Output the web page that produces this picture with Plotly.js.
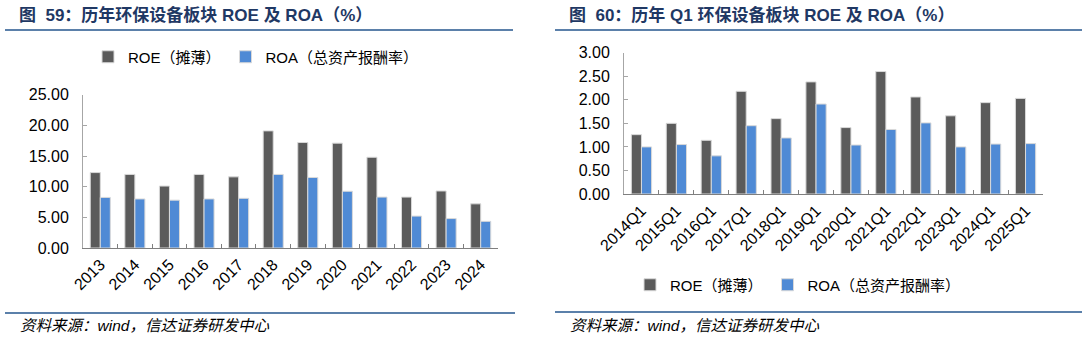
<!DOCTYPE html>
<html>
<head>
<meta charset="utf-8">
<script src="https://cdn.plot.ly/plotly-3.0.1.min.js"></script>
<style>html,body{margin:0;padding:0;background:#fff;}#chart{width:1082px;height:338px;}</style>
</head>
<body>
<div id="chart"></div>
<script>
// Chart 59: annual
const years = ["2013","2014","2015","2016","2017","2018","2019","2020","2021","2022","2023","2024"];
const roeAnnual = [12.3, 12.0, 10.1, 12.0, 11.6, 19.1, 17.2, 17.1, 14.8, 8.3, 9.3, 7.2];
const roaAnnual = [8.25, 8.0, 7.8, 8.0, 8.1, 12.0, 11.5, 9.25, 8.3, 5.2, 4.8, 4.35];
const yTicksAnnual = [0, 5, 10, 15, 20, 25];

// Chart 60: Q1
const quarters = ["2014Q1","2015Q1","2016Q1","2017Q1","2018Q1","2019Q1","2020Q1","2021Q1","2022Q1","2023Q1","2024Q1","2025Q1"];
const roeQ1 = [1.26, 1.50, 1.14, 2.18, 1.60, 2.38, 1.41, 2.60, 2.06, 1.66, 1.94, 2.03];
const roaQ1 = [1.00, 1.05, 0.81, 1.45, 1.19, 1.91, 1.04, 1.37, 1.51, 1.00, 1.06, 1.07];
const yTicksQ1 = [0, 0.5, 1, 1.5, 2, 2.5, 3];

const nameROE = "ROE（摊薄）";
const nameROA = "ROA（总资产报酬率）";
const colROE = "#5b5b5b";
const colROA = "#4f8ad5";

const W = 1082, H = 338;
const px = v => v / W;
const py = v => 1 - v / H;

const baseFont = "Liberation Sans, Arial, Noto Sans CJK SC, sans-serif";
const tickFont = {family: baseFont, size: 16, color: "#000"};
const lineStyle = {color: "#d9d9d9", width: 1};

const traces = [
  {type: "bar", x: years, y: roeAnnual, name: nameROE, xaxis: "x", yaxis: "y", legend: "legend",
   marker: {color: colROE, line: lineStyle}},
  {type: "bar", x: years, y: roaAnnual, name: nameROA, xaxis: "x", yaxis: "y", legend: "legend",
   marker: {color: colROA, line: lineStyle}},
  {type: "bar", x: quarters, y: roeQ1, name: nameROE, xaxis: "x2", yaxis: "y2", legend: "legend2",
   marker: {color: colROE, line: lineStyle}},
  {type: "bar", x: quarters, y: roaQ1, name: nameROA, xaxis: "x2", yaxis: "y2", legend: "legend2",
   marker: {color: colROA, line: lineStyle}}
];

const xCommon = {
  type: "category", dtick: 1,
  showgrid: false, zeroline: false, showline: true, linecolor: "#7f7f7f", linewidth: 1,
  ticks: "inside", ticklen: 4, tickcolor: "#7f7f7f", tickson: "boundaries", tickangle: -45,
  tickfont: tickFont, fixedrange: true
};
const yCommon = {
  showgrid: false, zeroline: false, showline: true, linecolor: "#a6a6a6", linewidth: 1,
  ticks: "inside", ticklen: 4, tickcolor: "#a6a6a6", tickformat: ".2f", tickmode: "array",
  tickfont: tickFont, fixedrange: true, ticklabelstandoff: 10
};

const legendCommon = {
  orientation: "h", xanchor: "left", yanchor: "middle", bgcolor: "rgba(0,0,0,0)",
  font: {family: baseFont, size: 15, color: "#000"}, itemwidth: 30, tracegroupgap: 0,
  traceorder: "normal", itemclick: false, itemdoubleclick: false
};

const navy = "#1f3864";
const rule = "#5b80aa";

const layout = {
  width: W, height: H,
  margin: {l: 0, r: 0, t: 0, b: 0},
  paper_bgcolor: "#fff", plot_bgcolor: "#fff",
  barmode: "group", bargap: 0.42, bargroupgap: 0,
  showlegend: true,
  xaxis: Object.assign({}, xCommon, {domain: [px(83), px(498)], anchor: "y"}),
  yaxis: Object.assign({}, yCommon, {domain: [py(248), py(94.7)], range: [0, 25], tickvals: yTicksAnnual, anchor: "x"}),
  xaxis2: Object.assign({}, xCommon, {domain: [px(624), px(1043)], anchor: "y2"}),
  yaxis2: Object.assign({}, yCommon, {domain: [py(194), py(52.7)], range: [0, 3], tickvals: yTicksQ1, anchor: "x2"}),
  legend: Object.assign({}, legendCommon, {x: px(88), y: py(57)}),
  legend2: Object.assign({}, legendCommon, {x: px(630), y: py(285)}),
  shapes: [
    {type: "line", xref: "paper", yref: "paper", x0: px(5), x1: px(513), y0: py(30), y1: py(30), line: {color: rule, width: 2}},
    {type: "line", xref: "paper", yref: "paper", x0: px(555), x1: px(1082), y0: py(30), y1: py(30), line: {color: rule, width: 2}},
    {type: "line", xref: "paper", yref: "paper", x0: px(5), x1: px(515), y0: py(313), y1: py(313), line: {color: rule, width: 2}},
    {type: "line", xref: "paper", yref: "paper", x0: px(555), x1: px(1082), y0: py(312), y1: py(312), line: {color: rule, width: 2}}
  ],
  annotations: [
    {xref: "paper", yref: "paper", x: px(17), y: py(15), xanchor: "left", yanchor: "middle", showarrow: false,
     text: "<b>图  59：历年环保设备板块 ROE 及 ROA（%）</b>", font: {family: baseFont, size: 17, color: navy}},
    {xref: "paper", yref: "paper", x: px(567), y: py(15), xanchor: "left", yanchor: "middle", showarrow: false,
     text: "<b>图  60：历年 Q1 环保设备板块 ROE 及 ROA（%）</b>", font: {family: baseFont, size: 17, color: navy}},
    {xref: "paper", yref: "paper", x: px(18), y: py(325), xanchor: "left", yanchor: "middle", showarrow: false,
     text: "<i>资料来源：wind，信达证券研发中心</i>", font: {family: baseFont, size: 15.5, color: "#000"}},
    {xref: "paper", yref: "paper", x: px(568), y: py(325), xanchor: "left", yanchor: "middle", showarrow: false,
     text: "<i>资料来源：wind，信达证券研发中心</i>", font: {family: baseFont, size: 15.5, color: "#000"}}
  ]
};

Plotly.newPlot("chart", traces, layout, {displayModeBar: false, staticPlot: true});
</script>
</body>
</html>
